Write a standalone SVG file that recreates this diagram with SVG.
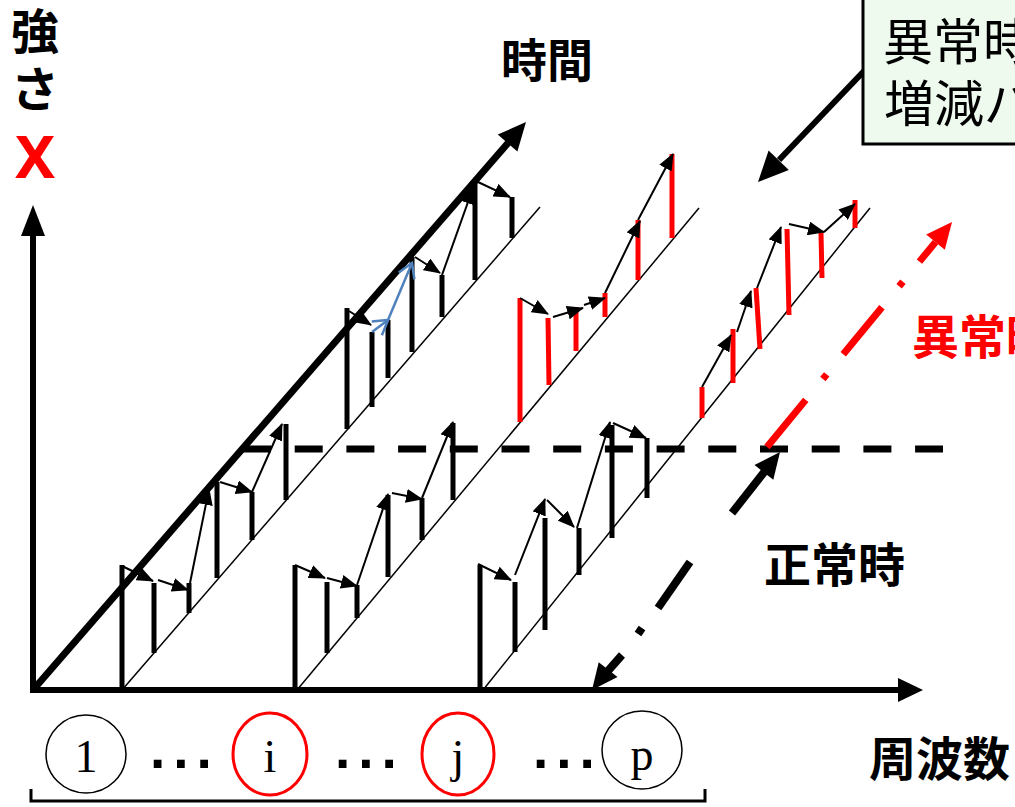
<svg xmlns="http://www.w3.org/2000/svg" width="1015" height="807" viewBox="0 0 1015 807">
<defs>
<style>
.ax{stroke:#000;stroke-width:6;fill:none}
.thin{stroke:#000;stroke-width:1.5;fill:none}
.bk{stroke:#000;stroke-width:5;fill:none}
.rd{stroke:#ff0000;stroke-width:5;fill:none}
.ar{stroke:#000;stroke-width:2;fill:none;marker-end:url(#ah)}
.bl{stroke:#4f81bd;stroke-width:2.5;fill:none;marker-end:url(#bh)}
.jp{font-family:"Noto Sans CJK JP",sans-serif;font-weight:bold}
.num{font-family:"Liberation Serif",serif;font-size:46px;text-anchor:middle}
.dots{font-family:"Liberation Sans",sans-serif;font-weight:bold;font-size:55px;letter-spacing:8px}
</style>
<marker id="ah" markerUnits="userSpaceOnUse" markerWidth="17" markerHeight="14" refX="16" refY="7" orient="auto"><path d="M0,0 L17,7 L0,14 z" fill="#000"/></marker>
<marker id="bh" markerUnits="userSpaceOnUse" markerWidth="17" markerHeight="20" refX="15" refY="10" orient="auto"><path d="M1,1.5 L15,10 L1,18.5" fill="none" stroke="#4f81bd" stroke-width="2.5"/></marker>
</defs>
<rect width="1015" height="807" fill="#fff"/>

<g id="threshold">
<line x1="243" y1="449" x2="943" y2="449" stroke="#000" stroke-width="7" stroke-dasharray="28 23.7"/>
</g>

<g id="axes">
<line class="ax" x1="33" y1="693" x2="33" y2="232"/>
<polygon points="33,205 21,236 45,236" fill="#000"/>
<line class="ax" x1="30" y1="690" x2="900" y2="690"/>
<polygon points="923,690 898,678 898,702" fill="#000"/>
<line x1="33" y1="690" x2="508" y2="143" stroke="#000" stroke-width="7"/>
<polygon points="526,122 517.4,151.6 497.8,134.6" fill="#000"/>
</g>

<g id="series-1">
<line class="thin" x1="122" y1="690" x2="540" y2="207"/>
<line class="bk" x1="122" y1="565" x2="122" y2="690"/>
<line class="bk" x1="154" y1="583" x2="154" y2="653"/>
<line class="bk" x1="189" y1="583" x2="189" y2="613"/>
<line class="bk" x1="217" y1="482" x2="217" y2="578"/>
<line class="bk" x1="252" y1="492" x2="252" y2="540"/>
<line class="bk" x1="286" y1="424" x2="286" y2="500"/>
<line class="bk" x1="347" y1="308" x2="347" y2="429"/>
<line class="bk" x1="372" y1="332" x2="372" y2="407"/>
<line class="bk" x1="388" y1="320" x2="388" y2="378"/>
<line class="bk" x1="412" y1="257" x2="412" y2="352"/>
<line class="bk" x1="442" y1="275" x2="442" y2="317"/>
<line class="bk" x1="475" y1="182" x2="475" y2="280"/>
<line class="bk" x1="512" y1="197" x2="512" y2="238"/>
</g>

<g id="series-i">
<line class="thin" x1="297" y1="690" x2="699" y2="208"/>
<line class="bk" x1="295" y1="565" x2="295" y2="690"/>
<line class="bk" x1="327" y1="582" x2="327" y2="653"/>
<line class="bk" x1="357" y1="585" x2="357" y2="618"/>
<line class="bk" x1="388" y1="495" x2="388" y2="577"/>
<line class="bk" x1="422" y1="498" x2="422" y2="540"/>
<line class="bk" x1="453" y1="423" x2="453" y2="500"/>
<line class="rd" x1="520" y1="298" x2="520" y2="422"/>
<line class="rd" x1="548" y1="318" x2="549" y2="385"/>
<line class="rd" x1="576" y1="307" x2="576" y2="351"/>
<line class="rd" x1="605" y1="293" x2="605" y2="317"/>
<line class="rd" x1="638" y1="220" x2="638" y2="280"/>
<line class="rd" x1="672" y1="154" x2="672" y2="238"/>
</g>

<g id="series-j">
<line class="thin" x1="483" y1="690" x2="870" y2="208"/>
<line class="bk" x1="480" y1="565" x2="480" y2="690"/>
<line class="bk" x1="515" y1="582" x2="515" y2="652"/>
<line class="bk" x1="545" y1="518" x2="545" y2="630"/>
<line class="bk" x1="579" y1="528" x2="579" y2="575"/>
<line class="bk" x1="612" y1="425" x2="612" y2="538"/>
<line class="bk" x1="647" y1="438" x2="647" y2="498"/>
<line class="rd" x1="702" y1="387" x2="702" y2="418"/>
<line class="rd" x1="733" y1="329" x2="733" y2="383"/>
<line class="rd" x1="756" y1="288" x2="760" y2="349"/>
<line class="rd" x1="787" y1="229" x2="789" y2="315"/>
<line class="rd" x1="821" y1="233" x2="822" y2="278"/>
<line class="rd" x1="855" y1="200" x2="855" y2="228"/>
</g>

<g id="connectors">
<line class="ar" x1="122" y1="566" x2="153" y2="581"/>
<line class="ar" x1="158" y1="580" x2="188" y2="590"/>
<line class="ar" x1="190" y1="583" x2="209" y2="489"/>
<line class="ar" x1="220" y1="482" x2="252" y2="492"/>
<line class="ar" x1="252" y1="492" x2="282" y2="424"/>
<line class="ar" x1="349" y1="311" x2="371" y2="325"/>
<line class="bl" x1="372" y1="332" x2="388" y2="320"/>
<line class="bl" x1="388" y1="320" x2="412" y2="263"/>
<line class="ar" x1="415" y1="257" x2="440" y2="273"/>
<line class="ar" x1="442" y1="275" x2="473" y2="188"/>
<line class="ar" x1="478" y1="182" x2="510" y2="197"/>

<line class="ar" x1="295" y1="565" x2="325" y2="578"/>
<line class="ar" x1="327" y1="578" x2="357" y2="586"/>
<line class="ar" x1="357" y1="585" x2="388" y2="494"/>
<line class="ar" x1="392" y1="493" x2="422" y2="499"/>
<line class="ar" x1="422" y1="498" x2="453" y2="422"/>
<line class="ar" x1="520" y1="298" x2="548" y2="314"/>
<line class="ar" x1="553" y1="317" x2="583" y2="308"/>
<line class="ar" x1="584" y1="305" x2="605" y2="298"/>
<line class="ar" x1="605" y1="293" x2="640" y2="221"/>
<line class="ar" x1="638" y1="220" x2="673" y2="154"/>

<line class="ar" x1="478" y1="564" x2="511" y2="580"/>
<line class="ar" x1="515" y1="575" x2="545" y2="499"/>
<line class="ar" x1="547" y1="500" x2="574" y2="527"/>
<line class="ar" x1="577" y1="528" x2="610" y2="422"/>
<line class="ar" x1="613" y1="423" x2="646" y2="438"/>
<line class="ar" x1="702" y1="387" x2="731" y2="335"/>
<line class="ar" x1="737" y1="332" x2="751" y2="291"/>
<line class="ar" x1="757" y1="288" x2="781" y2="227"/>
<line class="ar" x1="789" y1="224" x2="824" y2="232"/>
<line class="ar" x1="824" y1="232" x2="855" y2="204"/>
</g>

<g id="abnormal-arrow">
<path d="M767,447 L935.5,242.1" stroke="#ff0000" stroke-width="7" fill="none" stroke-dasharray="61 27 6 26"/>
<polygon points="952,222 944.8,249.7 926.2,234.5" fill="#ff0000"/>
</g>

<g id="normal-arrow" stroke="#000" stroke-width="8" fill="none">
<line x1="765" y1="471" x2="732" y2="513"/>
<line x1="690" y1="562" x2="658" y2="608"/>
<line x1="642" y1="628" x2="638" y2="634"/>
<line x1="622" y1="655" x2="607" y2="672"/>
<polygon points="780,452 773.3,479.8 754.5,465" fill="#000" stroke="none"/>
<polygon points="592,690 617.5,677 598.7,662.2" fill="#000" stroke="none"/>
</g>

<g id="callout">
<line x1="865" y1="70" x2="779" y2="160" stroke="#000" stroke-width="6"/>
<polygon points="758,182 788.8,170 768.6,150.6" fill="#000"/>
<rect x="863" y="-5" width="200" height="149" fill="#effaef" stroke="#000" stroke-width="3"/>
<text x="883" y="60" font-family="Noto Sans CJK JP, sans-serif" font-size="50">異常時</text>
<text x="884" y="122" font-family="Noto Sans CJK JP, sans-serif" font-size="50">増減パ</text>
</g>

<g id="labels">
<text class="jp" x="35" y="49" font-size="48" text-anchor="middle">強</text>
<text class="jp" x="35" y="107" font-size="48" text-anchor="middle">さ</text>
<text x="35" y="178" font-family="Noto Sans, sans-serif" font-weight="bold" font-size="60" fill="#ff0000" text-anchor="middle">X</text>
<text class="jp" x="501" y="77" font-size="46">時間</text>
<text class="jp" x="764" y="582" font-size="47">正常時</text>
<text class="jp" x="912" y="354" font-size="47" fill="#ff0000">異常時</text>
<text class="jp" x="869" y="776" font-size="47">周波数</text>
</g>

<g id="freq-1"><ellipse cx="86" cy="754" rx="40" ry="39" fill="none" stroke="#000" stroke-width="1.5"/><text class="num" x="86" y="772">1</text></g>
<g id="freq-i"><ellipse cx="270" cy="754" rx="37" ry="41" fill="none" stroke="#ff0000" stroke-width="3"/><text class="num" x="270" y="772">i</text></g>
<g id="freq-j"><ellipse cx="458" cy="754" rx="36" ry="41" fill="none" stroke="#ff0000" stroke-width="3"/><text class="num" x="458" y="772">j</text></g>
<g id="freq-p"><ellipse cx="642" cy="750" rx="40" ry="39" fill="none" stroke="#000" stroke-width="1.5"/><text class="num" x="642" y="770">p</text></g>
<g id="ellipses">
<text class="dots" x="150" y="768">...</text>
<text class="dots" x="335" y="768">...</text>
<text class="dots" x="533" y="768">...</text>
</g>
<g id="bracket"><path d="M31,789 V801 H705 V789" fill="none" stroke="#000" stroke-width="3"/></g>
</svg>
